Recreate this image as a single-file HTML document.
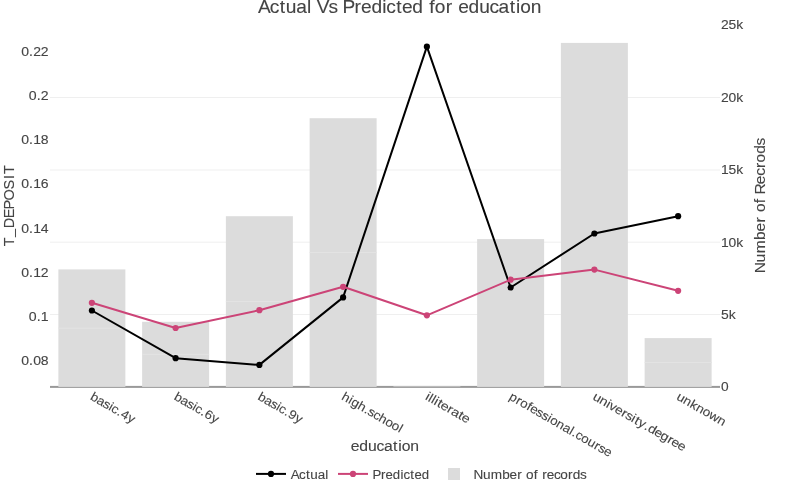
<!DOCTYPE html><html><head><meta charset="utf-8"><style>html,body{margin:0;padding:0;width:800px;height:500px;overflow:hidden;background:#fff}</style></head><body><svg width="800" height="500" viewBox="0 0 800 500" style="position:absolute;left:0;top:0;will-change:transform">
<rect width="800" height="500" fill="#fff"/>
<rect x="50" y="97.00" width="670" height="1" fill="#efefef"/>
<rect x="50" y="169.50" width="670" height="1" fill="#efefef"/>
<rect x="50" y="241.70" width="670" height="1" fill="#efefef"/>
<rect x="50" y="314.00" width="670" height="1" fill="#efefef"/>
<rect x="50" y="385.90" width="670" height="2" fill="#999"/>
<rect x="58.38" y="269.40" width="67" height="117.50" fill="#dcdcdc"/>
<rect x="58.38" y="327.65" width="67" height="1" fill="#e3e3e3"/>
<rect x="142.12" y="321.80" width="67" height="65.10" fill="#dcdcdc"/>
<rect x="142.12" y="353.85" width="67" height="1" fill="#e3e3e3"/>
<rect x="225.88" y="216.20" width="67" height="170.70" fill="#dcdcdc"/>
<rect x="225.88" y="301.05" width="67" height="1" fill="#e3e3e3"/>
<rect x="309.62" y="118.20" width="67" height="268.70" fill="#dcdcdc"/>
<rect x="309.62" y="252.05" width="67" height="1" fill="#e3e3e3"/>
<rect x="393.38" y="386.40" width="67" height="0.50" fill="#dcdcdc"/>
<rect x="477.12" y="239.10" width="67" height="147.80" fill="#dcdcdc"/>
<rect x="560.88" y="42.90" width="67" height="344.00" fill="#dcdcdc"/>
<rect x="644.62" y="338.10" width="67" height="48.80" fill="#dcdcdc"/>
<rect x="644.62" y="362.00" width="67" height="1" fill="#e3e3e3"/>
<polyline points="91.88,310.50 175.62,358.20 259.38,364.90 343.12,297.40 426.88,46.65 510.62,287.50 594.38,233.50 678.12,216.20" fill="none" stroke="#000" stroke-width="2" stroke-linejoin="round"/><circle cx="91.88" cy="310.50" r="3.1" fill="#000"/><circle cx="175.62" cy="358.20" r="3.1" fill="#000"/><circle cx="259.38" cy="364.90" r="3.1" fill="#000"/><circle cx="343.12" cy="297.40" r="3.1" fill="#000"/><circle cx="426.88" cy="46.65" r="3.1" fill="#000"/><circle cx="510.62" cy="287.50" r="3.1" fill="#000"/><circle cx="594.38" cy="233.50" r="3.1" fill="#000"/><circle cx="678.12" cy="216.20" r="3.1" fill="#000"/>
<polyline points="91.88,302.80 175.62,328.00 259.38,310.20 343.12,286.80 426.88,315.30 510.62,279.70 594.38,269.60 678.12,290.80" fill="none" stroke="#cc4477" stroke-width="2" stroke-linejoin="round"/><circle cx="91.88" cy="302.80" r="3.1" fill="#cc4477"/><circle cx="175.62" cy="328.00" r="3.1" fill="#cc4477"/><circle cx="259.38" cy="310.20" r="3.1" fill="#cc4477"/><circle cx="343.12" cy="286.80" r="3.1" fill="#cc4477"/><circle cx="426.88" cy="315.30" r="3.1" fill="#cc4477"/><circle cx="510.62" cy="279.70" r="3.1" fill="#cc4477"/><circle cx="594.38" cy="269.60" r="3.1" fill="#cc4477"/><circle cx="678.12" cy="290.80" r="3.1" fill="#cc4477"/>
<g transform="translate(400.00 12.75)"><text x="-130.60 -119.72 -110.61 -105.03 -95.39 -85.61 -81.21 -76.54 -65.65 -56.88 -52.84 -41.85 -35.82 -26.29 -16.34 -12.57 -3.47 1.82 11.35 21.42 26.92 31.96 42.01 48.58 53.54 63.07 72.88 82.39 90.67 100.89 106.60 110.55 120.24" y="0" transform="scale(1.0876 1)" font-family='"Liberation Sans", sans-serif' font-size="17.59" fill="#444" stroke="#444" stroke-width="0.1">Actual Vs Predicted for education</text></g>
<g transform="translate(48.50 55.80)"><text x="-24.24 -17.20 -13.60 -6.84" y="0" transform="scale(1.1279 1)" font-family='"Liberation Sans", sans-serif' font-size="12.42" fill="#444" stroke="#444" stroke-width="0.1">0.22</text></g>
<g transform="translate(48.50 100.00)"><text x="-17.36 -10.36 -6.81" y="0" transform="scale(1.1371 1)" font-family='"Liberation Sans", sans-serif' font-size="12.42" fill="#444" stroke="#444" stroke-width="0.1">0.2</text></g>
<g transform="translate(48.50 144.20)"><text x="-24.24 -17.20 -13.60 -6.84" y="0" transform="scale(1.1279 1)" font-family='"Liberation Sans", sans-serif' font-size="12.42" fill="#444" stroke="#444" stroke-width="0.1">0.18</text></g>
<g transform="translate(48.50 188.40)"><text x="-24.24 -17.20 -13.60 -6.84" y="0" transform="scale(1.1279 1)" font-family='"Liberation Sans", sans-serif' font-size="12.42" fill="#444" stroke="#444" stroke-width="0.1">0.16</text></g>
<g transform="translate(48.50 232.60)"><text x="-24.24 -17.20 -13.60 -6.84" y="0" transform="scale(1.1279 1)" font-family='"Liberation Sans", sans-serif' font-size="12.42" fill="#444" stroke="#444" stroke-width="0.1">0.14</text></g>
<g transform="translate(48.50 276.80)"><text x="-24.24 -17.20 -13.60 -6.84" y="0" transform="scale(1.1279 1)" font-family='"Liberation Sans", sans-serif' font-size="12.42" fill="#444" stroke="#444" stroke-width="0.1">0.12</text></g>
<g transform="translate(48.50 321.00)"><text x="-17.36 -10.36 -6.81" y="0" transform="scale(1.1371 1)" font-family='"Liberation Sans", sans-serif' font-size="12.42" fill="#444" stroke="#444" stroke-width="0.1">0.1</text></g>
<g transform="translate(48.50 365.20)"><text x="-24.24 -17.20 -13.60 -6.84" y="0" transform="scale(1.1279 1)" font-family='"Liberation Sans", sans-serif' font-size="12.42" fill="#444" stroke="#444" stroke-width="0.1">0.08</text></g>
<g transform="translate(721.00 29.35)"><text x="-0.04 6.80 13.74" y="0" transform="scale(1.1170 1)" font-family='"Liberation Sans", sans-serif' font-size="12.42" fill="#444" stroke="#444" stroke-width="0.1">25k</text></g>
<g transform="translate(721.00 101.75)"><text x="-0.04 6.80 13.74" y="0" transform="scale(1.1170 1)" font-family='"Liberation Sans", sans-serif' font-size="12.42" fill="#444" stroke="#444" stroke-width="0.1">20k</text></g>
<g transform="translate(721.00 174.15)"><text x="-0.04 6.80 13.74" y="0" transform="scale(1.1170 1)" font-family='"Liberation Sans", sans-serif' font-size="12.42" fill="#444" stroke="#444" stroke-width="0.1">15k</text></g>
<g transform="translate(721.00 246.55)"><text x="-0.04 6.80 13.74" y="0" transform="scale(1.1170 1)" font-family='"Liberation Sans", sans-serif' font-size="12.42" fill="#444" stroke="#444" stroke-width="0.1">10k</text></g>
<g transform="translate(721.00 318.95)"><text x="-0.06 6.85" y="0" transform="scale(1.1234 1)" font-family='"Liberation Sans", sans-serif' font-size="12.42" fill="#444" stroke="#444" stroke-width="0.1">5k</text></g>
<g transform="translate(721.00 391.35)"><text x="0.00" y="0" transform="scale(1.1049 1)" font-family='"Liberation Sans", sans-serif' font-size="12.42" fill="#444" stroke="#444" stroke-width="0.1">0</text></g>
<g transform="translate(89.47 399.00) rotate(30)"><text x="-0.02 6.73 13.26 19.37 22.03 28.29 32.07 39.19" y="0" transform="scale(1.0883 1)" font-family='"Liberation Sans", sans-serif' font-size="12.42" fill="#444" stroke="#444" stroke-width="0.1">basic.4y</text></g>
<g transform="translate(173.22 399.00) rotate(30)"><text x="-0.02 6.73 13.26 19.37 22.03 28.29 32.07 39.19" y="0" transform="scale(1.0883 1)" font-family='"Liberation Sans", sans-serif' font-size="12.42" fill="#444" stroke="#444" stroke-width="0.1">basic.6y</text></g>
<g transform="translate(256.98 399.00) rotate(30)"><text x="-0.02 6.73 13.26 19.37 22.03 28.29 32.07 39.19" y="0" transform="scale(1.0883 1)" font-family='"Liberation Sans", sans-serif' font-size="12.42" fill="#444" stroke="#444" stroke-width="0.1">basic.9y</text></g>
<g transform="translate(340.73 399.00) rotate(30)"><text x="0.04 7.12 10.00 16.94 24.17 27.68 33.43 39.45 46.30 53.00 59.94" y="0" transform="scale(1.0867 1)" font-family='"Liberation Sans", sans-serif' font-size="12.42" fill="#444" stroke="#444" stroke-width="0.1">high.school</text></g>
<g transform="translate(424.48 399.00) rotate(30)"><text x="0.05 2.91 5.76 8.62 11.76 15.19 21.91 25.89 32.80 36.24" y="0" transform="scale(1.1507 1)" font-family='"Liberation Sans", sans-serif' font-size="12.42" fill="#444" stroke="#444" stroke-width="0.1">illiterate</text></g>
<g transform="translate(508.23 399.00) rotate(30)"><text x="0.00 7.21 11.57 18.62 22.15 28.69 34.48 40.61 43.43 50.31 57.15 64.08 67.28 70.81 76.72 83.60 90.87 95.09 100.94" y="0" transform="scale(1.0814 1)" font-family='"Liberation Sans", sans-serif' font-size="12.42" fill="#444" stroke="#444" stroke-width="0.1">professional.course</text></g>
<g transform="translate(591.98 399.00) rotate(30)"><text x="-0.07 6.70 13.62 16.52 22.52 29.38 33.41 39.38 42.61 46.50 52.99 56.54 63.05 69.57 76.57 80.65 87.02" y="0" transform="scale(1.1225 1)" font-family='"Liberation Sans", sans-serif' font-size="12.42" fill="#444" stroke="#444" stroke-width="0.1">university.degree</text></g>
<g transform="translate(675.73 399.00) rotate(30)"><text x="0.01 6.92 13.97 20.31 27.09 33.84 42.80" y="0" transform="scale(1.0980 1)" font-family='"Liberation Sans", sans-serif' font-size="12.42" fill="#444" stroke="#444" stroke-width="0.1">unknown</text></g>
<g transform="translate(385.00 451.00)"><text x="-31.61 -23.77 -15.69 -7.85 -1.04 7.38 12.09 15.34 23.32" y="0" transform="scale(1.0876 1)" font-family='"Liberation Sans", sans-serif' font-size="14.49" fill="#444" stroke="#444" stroke-width="0.1">education</text></g>
<g transform="translate(14.00 205.70) rotate(-90)"><text x="-40.38 -31.24 -22.62 -12.43 -3.81 5.10 16.17 26.70 31.53" y="0 -1.2 0 0 0 0 0 0 0" transform="scale(1.0026 1)" font-family='"Liberation Sans", sans-serif' font-size="14.49" fill="#444" stroke="#444" stroke-width="0.1">T_DEPOSIT</text></g>
<g transform="translate(764.80 205.40) rotate(-90)"><text x="-63.18 -52.99 -44.54 -32.15 -24.22 -15.95 -10.48 -6.25 2.00 6.58 10.18 19.78 27.46 34.83 39.95 47.95 55.80" y="0" transform="scale(1.0757 1)" font-family='"Liberation Sans", sans-serif' font-size="14.49" fill="#444" stroke="#444" stroke-width="0.1">Number of Recrods</text></g>
<g transform="translate(291.00 478.70)"><text x="-0.34 7.39 13.85 17.83 24.68 31.62" y="0" transform="scale(1.0801 1)" font-family='"Liberation Sans", sans-serif' font-size="12.42" fill="#444" stroke="#444" stroke-width="0.1">Actual</text></g>
<g transform="translate(373.30 478.70)"><text x="-0.75 7.13 11.51 18.38 25.50 28.26 34.79 38.64 45.51" y="0" transform="scale(1.0651 1)" font-family='"Liberation Sans", sans-serif' font-size="12.42" fill="#444" stroke="#444" stroke-width="0.1">Predicted</text></g>
<g transform="translate(474.00 478.70)"><text x="-0.39 8.21 15.29 25.76 32.44 39.43 44.04 47.56 54.55 58.40 62.33 66.55 73.02 78.85 85.90 90.27 96.89" y="0" transform="scale(1.0950 1)" font-family='"Liberation Sans", sans-serif' font-size="12.42" fill="#444" stroke="#444" stroke-width="0.1">Number of records</text></g>
<line x1="256" y1="473.9" x2="286" y2="473.9" stroke="#000" stroke-width="2"/><circle cx="271" cy="473.9" r="3.1" fill="#000"/>
<line x1="338" y1="473.9" x2="368" y2="473.9" stroke="#cc4477" stroke-width="2"/><circle cx="353" cy="473.9" r="3.1" fill="#cc4477"/>
<rect x="448" y="468" width="12" height="12" fill="#dcdcdc"/>
</svg></body></html>
